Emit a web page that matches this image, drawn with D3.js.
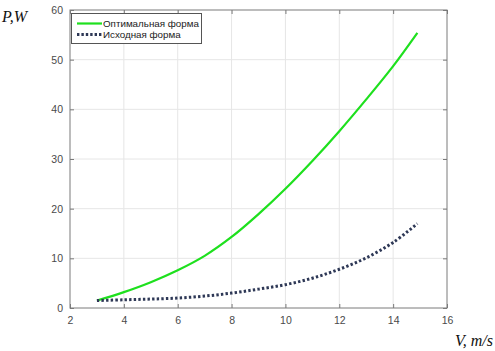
<!DOCTYPE html>
<html>
<head>
<meta charset="utf-8">
<script src="https://cdn.jsdelivr.net/npm/d3@7"></script>
<style>
  body { margin: 0; background: #fff; }
  svg { display: block; }
</style>
</head>
<body>
<script>
// speeds, m/s
const speeds = [3, 4, 5, 6, 7, 8, 9, 10, 11, 12, 13, 14, 14.9];
// power of optimal shape, W
const optimal = [1.5, 3.2, 5.2, 7.6, 10.5, 14.3, 18.9, 24.0, 29.6, 35.6, 42.0, 48.7, 55.4];
// power of initial shape, W
const initial = [1.5, 1.65, 1.8, 2.0, 2.4, 3.0, 3.8, 4.7, 6.0, 7.8, 10.1, 13.2, 17.0];
const seriesNames = ["Оптимальная форма", "Исходная форма"];
const xTicks = [2, 4, 6, 8, 10, 12, 14, 16];
const yTicks = [0, 10, 20, 30, 40, 50, 60];

const W = 495, H = 351;
const m = { left: 70, right: 48, top: 10, bottom: 43 };

const svg = d3.select("body").append("svg")
  .attr("width", W)
  .attr("height", H);

const x = d3.scaleLinear().domain([2, 16]).range([m.left, W - m.right]);
const y = d3.scaleLinear().domain([0, 60]).range([H - m.bottom, m.top]);

// grid
svg.append("g").selectAll("line").data(xTicks.slice(1, -1)).enter().append("line")
  .attr("x1", d => x(d)).attr("x2", d => x(d))
  .attr("y1", y(0)).attr("y2", y(60))
  .style("stroke", "#e6e6e6").style("stroke-width", 1);
svg.append("g").selectAll("line").data(yTicks.slice(1, -1)).enter().append("line")
  .attr("x1", x(2)).attr("x2", x(16))
  .attr("y1", d => y(d)).attr("y2", d => y(d))
  .style("stroke", "#e6e6e6").style("stroke-width", 1);

// axes (ticks inside, like matlab)
const axColor = "#7a7a7a";
function styleAxis(g) {
  g.select(".domain").remove();
  g.selectAll(".tick line").style("stroke", axColor);
  g.selectAll(".tick text")
    .style("font-family", "Arial, 'Liberation Sans', sans-serif")
    .style("font-size", "10.5px")
    .style("fill", "#4a4a4a");
}
svg.append("g").attr("transform", `translate(0,${y(0)})`)
  .call(d3.axisBottom(x).tickValues(xTicks).tickSizeInner(-4).tickPadding(9))
  .call(styleAxis);
svg.append("g").attr("transform", `translate(0,${y(60)})`)
  .call(d3.axisTop(x).tickValues(xTicks).tickSizeInner(-4).tickFormat(""))
  .call(styleAxis);
svg.append("g").attr("transform", `translate(${x(2)},0)`)
  .call(d3.axisLeft(y).tickValues(yTicks).tickSizeInner(-4).tickPadding(7))
  .call(styleAxis);
svg.append("g").attr("transform", `translate(${x(16)},0)`)
  .call(d3.axisRight(y).tickValues(yTicks).tickSizeInner(-4).tickFormat(""))
  .call(styleAxis);

svg.append("rect")
  .attr("x", x(2)).attr("y", y(60))
  .attr("width", x(16) - x(2)).attr("height", y(0) - y(60))
  .style("fill", "none").style("stroke", axColor).style("stroke-width", 1);

// curves
const line = d3.line().x(d => x(d[0])).y(d => y(d[1])).curve(d3.curveCatmullRom.alpha(0.5));

svg.append("path")
  .datum(d3.zip(speeds, optimal))
  .attr("d", line)
  .style("fill", "none")
  .style("stroke", "#1ee01e")
  .style("stroke-width", 2.2);

svg.append("path")
  .datum(d3.zip(speeds, initial))
  .attr("d", line)
  .style("fill", "none")
  .style("stroke", "#2e3856")
  .style("stroke-width", 3)
  .style("stroke-dasharray", "2.4,2.2");

// legend
const lg = svg.append("g");
lg.append("rect")
  .attr("x", 71.5).attr("y", 13.5).attr("width", 130).attr("height", 30)
  .style("fill", "#fff").style("stroke", "#555").style("stroke-width", 1);
const rows = [
  { name: seriesNames[0], color: "#1ee01e", w: 2.2, dash: null },
  { name: seriesNames[1], color: "#2e3856", w: 3, dash: "2.4,2" }
];
rows.forEach((r, i) => {
  const yy = 23.5 + i * 11;
  lg.append("line")
    .attr("x1", 77).attr("x2", 102).attr("y1", yy).attr("y2", yy)
    .style("stroke", r.color).style("stroke-width", r.w)
    .style("stroke-dasharray", r.dash);
  lg.append("text")
    .attr("x", 103).attr("y", yy + 3.5)
    .text(r.name)
    .style("font-family", "Arial, 'Liberation Sans', sans-serif")
    .style("font-size", "9.8px")
    .style("fill", "#222");
});

// axis titles
svg.append("text")
  .attr("x", 2).attr("y", 22)
  .text("P,W")
  .style("font-family", "'Times New Roman', 'Liberation Serif', serif")
  .style("font-style", "italic")
  .style("font-size", "16px")
  .style("fill", "#111");
svg.append("text")
  .attr("x", 493).attr("y", 346)
  .attr("text-anchor", "end")
  .text("V, m/s")
  .style("font-family", "'Times New Roman', 'Liberation Serif', serif")
  .style("font-style", "italic")
  .style("font-size", "16px")
  .style("fill", "#111");
</script>
</body>
</html>
